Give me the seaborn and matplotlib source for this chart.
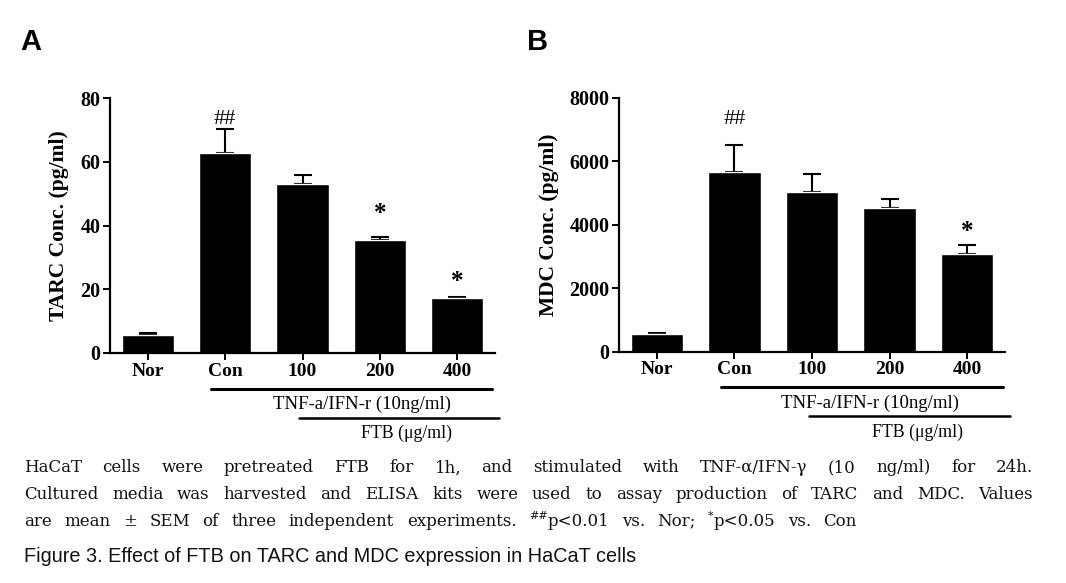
import matplotlib
matplotlib.use("Agg")
import matplotlib.pyplot as plt
import matplotlib.transforms as mtransforms
import seaborn as sns
import numpy as np
import pandas as pd

# ---------------- data ----------------
groups = ["Nor", "Con", "100", "200", "400"]
tarc_mean = [5.8, 62.7, 53.0, 35.4, 17.2]
tarc_sem = [0.5, 7.6, 2.9, 1.0, 0.4]
mdc_mean = [546, 5648, 5018, 4535, 3076]
mdc_sem = [30, 850, 570, 285, 295]
tarc_marks = ["", "##", "", "*", "*"]
mdc_marks = ["", "##", "", "", "*"]
tarc_ticks = [0, 20, 40, 60, 80]
mdc_ticks = [0, 2000, 4000, 6000, 8000]
caption_lines = [
    "HaCaT cells were pretreated FTB for 1h, and stimulated with TNF-\u03b1/IFN-\u03b3 (10 ng/ml) for 24h.",
    "Cultured media was harvested and ELISA kits were used to assay production of TARC and MDC. Values",
]
figure_title = "Figure 3. Effect of FTB on TARC and MDC expression in HaCaT cells"

W, H = 1066, 583
sns.set_theme(style="ticks")
plt.rcParams["font.family"] = ["Liberation Serif", "DejaVu Serif"]
for k in ["text.color", "axes.labelcolor", "xtick.color", "ytick.color",
          "axes.edgecolor"]:
    plt.rcParams[k] = "black"
fig = plt.figure(figsize=(W / 100, H / 100), dpi=100)


def fx(px):
    return px / W


def fy(py):
    return 1 - py / H


def panel(ax_rect, means, sems, marks, ticks, ylabel, ymax, mark_y, ylab_x):
    ax = fig.add_axes(ax_rect)
    df = pd.DataFrame({"group": groups, "value": means})
    sns.barplot(data=df, x="group", y="value", color="black", saturation=1,
                width=0.675, errorbar=None, ax=ax, zorder=2)
    x = np.arange(len(groups))
    ax.errorbar(x, means, yerr=[np.zeros(len(sems)), sems], fmt="none",
                ecolor="black", elinewidth=1.5, capsize=6.5, capthick=1.5,
                zorder=1)
    ax.set_ylim(0, ymax)
    ax.set_xlim(-0.49, 4.49)
    ax.set_yticks(ticks)
    ax.set_yticklabels([str(t) for t in ticks], fontsize=14.5, fontweight="bold")
    ax.set_xticks(x)
    ax.set_xticklabels(groups, fontsize=14, fontweight="bold")
    ax.set_xlabel("")
    ax.set_ylabel(ylabel, fontsize=15.5, fontweight="bold", color="black")
    ax.yaxis.label.set_verticalalignment("center")
    ax.yaxis.set_label_coords(ylab_x, 0.5)
    for s in ["top", "right"]:
        ax.spines[s].set_visible(False)
    for s in ["left", "bottom"]:
        ax.spines[s].set_linewidth(1.6)
        ax.spines[s].set_color("black")
    ax.tick_params(axis="both", direction="out", length=5, width=1.4,
                   color="black", labelcolor="black", pad=2)
    ax.set_facecolor("white")
    for i, m in enumerate(marks):
        if m == "##":
            ax.text(i, mark_y[i], m, ha="center", va="center",
                    fontsize=16, color="black")
        elif m:
            ax.text(i, mark_y[i], m, ha="center", va="center",
                    fontsize=18, fontweight="bold", color="black")
    return ax


axA = panel([fx(110), fy(353), fx(495) - fx(110), fy(98) - fy(353)],
            tarc_mean, tarc_sem, tarc_marks, tarc_ticks,
            "TARC Conc. (pg/ml)", 80, [0, 73.4, 0, 43.8, 22.4], -0.133)
axB = panel([fx(619), fy(351.7), fx(1005) - fx(619), fy(97.7) - fy(351.7)],
            mdc_mean, mdc_sem, mdc_marks, mdc_ticks,
            "MDC Conc. (pg/ml)", 8000, [0, 7298, 0, 0, 3800], -0.181)


def underlines(ax, l1, l2, t1x, t2x):
    trans = mtransforms.blended_transform_factory(ax.transData, ax.transAxes)
    ax.plot(l1, [-0.14, -0.14], color="black", lw=2.2, transform=trans,
            clip_on=False)
    ax.plot(l2, [-0.254, -0.254], color="black", lw=1.8, transform=trans,
            clip_on=False)
    ax.text(t1x, -0.202, "TNF-a/IFN-r (10ng/ml)", transform=trans,
            ha="center", va="center", fontsize=13.5, color="black")
    ax.text(t2x, -0.316, "FTB (\u03bcg/ml)", transform=trans,
            ha="center", va="center", fontsize=12.8, color="black")


underlines(axA, [0.81, 4.45], [1.96, 4.54], 2.77, 3.35)
underlines(axB, [0.82, 4.47], [1.96, 4.55], 2.75, 3.36)

fig.text(fx(20), fy(42), "A", fontsize=21, fontweight="bold",
         family="Liberation Sans", ha="left", va="center", color="black")
fig.text(fx(527), fy(42), "B", fontsize=21, fontweight="bold",
         family="Liberation Sans", ha="left", va="center", color="black")

# ---------------- caption with justified words ----------------
renderer = fig.canvas.get_renderer()
CAP_FS = 12
CAP_FAMILY = ["DejaVu Serif"]


def place_line(words, x0, y, x1=None, space=None):
    """words: list of lists of (text, size, dy_px)"""
    objs = []
    widths = []
    for w in words:
        segs = []
        wsum = 0
        for (t, size, dy) in w:
            o = fig.text(0, 0, t, fontsize=size, ha="left", va="center",
                         family=CAP_FAMILY, color="#111111")
            bb = o.get_window_extent(renderer)
            segs.append((o, bb.width, dy))
            wsum += bb.width
        objs.append(segs)
        widths.append(wsum)
    if x1 is not None:
        space = (x1 - x0 - sum(widths)) / (len(words) - 1)
    x = x0
    for segs, wd in zip(objs, widths):
        xx = x
        for (o, bw, dy) in segs:
            o.set_position((fx(xx), fy(y - dy)))
            xx += bw
        x += wd + space


def simple(line):
    return [[(w, CAP_FS, 0)] for w in line.split(" ")]


place_line(simple(caption_lines[0]), 24, 468, x1=1033)
place_line(simple(caption_lines[1]), 24, 494.5, x1=1033)
line3 = simple("are mean \u00b1 SEM of three independent experiments.")
line3 += [[("##", 8, 5), ("p<0.01", CAP_FS, 0)], [("vs.", CAP_FS, 0)],
          [("Nor;", CAP_FS, 0)], [("*", 8, 5), ("p<0.05", CAP_FS, 0)],
          [("vs.", CAP_FS, 0)], [("Con", CAP_FS, 0)]]
place_line(line3, 24, 521, x1=857)

fig.text(fx(24), fy(557), figure_title, fontsize=14.3, family="Liberation Sans",
         ha="left", va="center", color="#111111")

fig.savefig("out.png", dpi=100, facecolor="white")
